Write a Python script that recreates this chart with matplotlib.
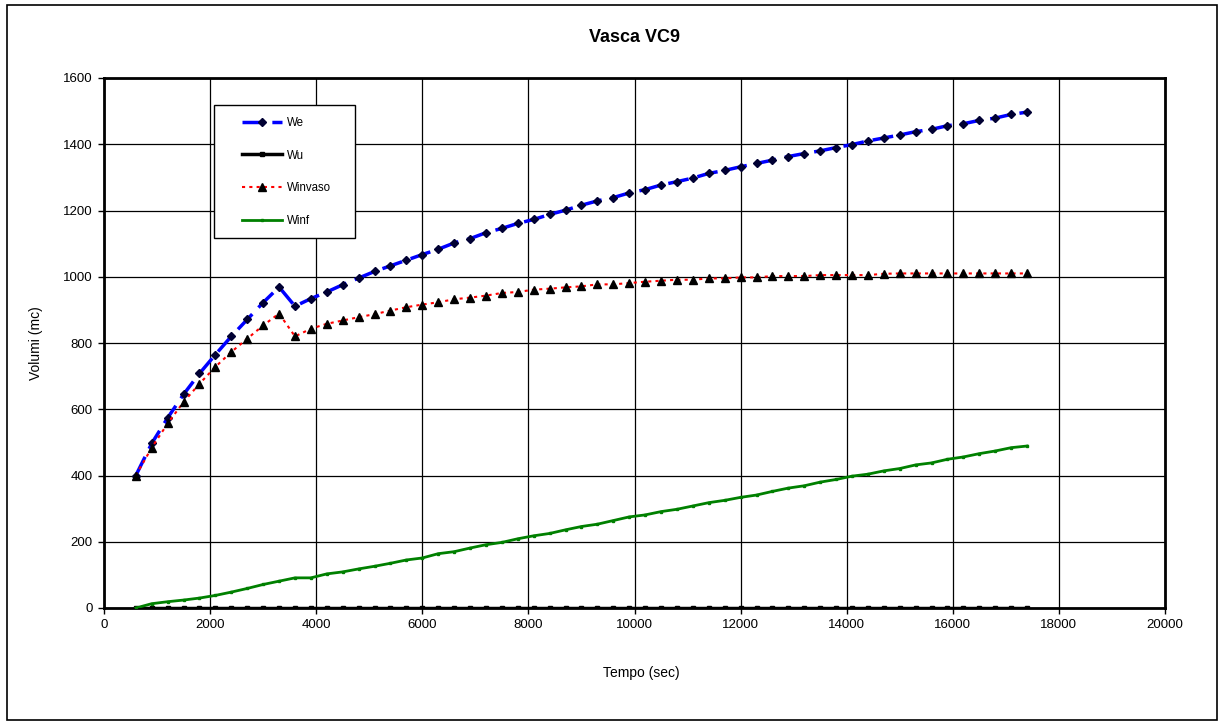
import matplotlib
matplotlib.use("Agg")
import matplotlib.pyplot as plt
from matplotlib.patches import Rectangle
import numpy as np

plt.rcParams['font.family'] = ['Liberation Sans', 'DejaVu Sans']

# time (sec): every 300 s from 600 to 17400
tempo = list(range(600, 17401, 300))

We = [400, 497, 574, 645, 708, 765, 820, 871, 922, 969,
      911, 934, 954, 976, 996, 1016, 1033, 1050, 1067, 1083,
      1102, 1115, 1133, 1146, 1161, 1173, 1188, 1201, 1216, 1229,
      1239, 1253, 1263, 1277, 1287, 1298, 1312, 1321, 1332, 1342,
      1352, 1363, 1372, 1380, 1390, 1399, 1410, 1419, 1428, 1438,
      1445, 1456, 1462, 1472, 1479, 1490, 1497]

Wu = [0] * 57

Winvaso = [400, 484, 557, 622, 677, 728, 773, 813, 853, 889,
           820, 843, 858, 868, 878, 887, 898, 908, 916, 923,
           932, 937, 943, 951, 954, 961, 964, 968, 971, 977,
           977, 981, 985, 988, 991, 991, 995, 995, 998, 998,
           1002, 1002, 1002, 1005, 1005, 1005, 1005, 1009, 1010, 1010,
           1010, 1010, 1010, 1010, 1010, 1010, 1010]

Winf = [0, 13, 19, 24, 30, 38, 48, 59, 71, 81,
        91, 91, 103, 109, 118, 126, 135, 145, 151, 164,
        170, 181, 191, 198, 209, 218, 225, 236, 246, 253,
        264, 275, 281, 291, 298, 308, 318, 325, 334, 341,
        352, 362, 369, 380, 388, 398, 404, 414, 421, 432,
        438, 449, 456, 466, 474, 484, 489]

x_ticks = [0, 2000, 4000, 6000, 8000, 10000, 12000, 14000, 16000, 18000, 20000]
y_ticks = [0, 200, 400, 600, 800, 1000, 1200, 1400, 1600]

W, H = 1223, 722
fig = plt.figure(figsize=(W / 100, H / 100), dpi=100)
fig.patch.set_facecolor('white')

# outer chart frame
fig.add_artist(Rectangle((7 / W, 1 - 720 / H), (1217 - 7) / W, (720 - 5) / H,
                         transform=fig.transFigure, fill=False,
                         edgecolor='black', linewidth=1.2))

ax = fig.add_axes([104 / W, 1 - 608 / H, (1165 - 104) / W, (608 - 78) / H])

ax.plot(tempo, We, color='#0000FF', linewidth=2.5, linestyle=(0, (6, 2.6)),
        marker='D', markersize=4, markerfacecolor='#000033',
        markeredgecolor='#000033', label='We', zorder=3)
ax.plot(tempo, Wu, color='black', linewidth=2.5, marker='s', markersize=3.5,
        markerfacecolor='black', markeredgecolor='black', label='Wu', zorder=4)
ax.plot(tempo, Winvaso, color='#FF0000', linewidth=1.5, linestyle=(0, (1.5, 2)),
        marker='^', markersize=6, markerfacecolor='black',
        markeredgecolor='black', label='Winvaso', zorder=5)
ax.plot(tempo, Winf, color='#008000', linewidth=2, marker='s', markersize=2,
        markerfacecolor='#008000', markeredgecolor='#008000', label='Winf', zorder=6)

ax.set_xlim(0, 20000)
ax.set_ylim(0, 1600)
ax.set_xticks(x_ticks)
ax.set_yticks(y_ticks)
ax.set_xticklabels([str(v) for v in x_ticks])
ax.set_yticklabels([str(v) for v in y_ticks])
ax.tick_params(axis='both', direction='out', length=4, width=1, labelsize=9.5,
               colors='black', pad=4)
ax.grid(True, color='black', linewidth=0.9)
ax.set_axisbelow(True)
for s in ax.spines.values():
    s.set_linewidth(2)
    s.set_color('black')

fig.text(0.5 * (104 + 1165) / W, 1 - 38 / H, 'Vasca VC9', ha='center', va='center',
         fontsize=13, fontweight='bold')
fig.text(641 / W, 1 - 673 / H, 'Tempo (sec)', ha='center', va='center', fontsize=10)
fig.text(36 / W, 1 - 343 / H, 'Volumi (mc)', ha='center', va='center',
         rotation=90, fontsize=10)

# legend box (frame drawn separately to match the wide Excel box)
ax.add_patch(Rectangle((214 / W, 1 - 238 / H), (355 - 214) / W, (238 - 105) / H,
                       transform=fig.transFigure, facecolor='white',
                       edgecolor='black', linewidth=1, zorder=9, clip_on=False))
leg = ax.legend(loc='upper left', bbox_to_anchor=(242 / W, 1 - 117 / H),
                bbox_transform=fig.transFigure, fontsize=8.3, frameon=False,
                borderaxespad=0, borderpad=0,
                labelspacing=1.78, handlelength=3.5, handletextpad=0.4)
leg.set_zorder(10)

fig.savefig('out.png', dpi=100)
